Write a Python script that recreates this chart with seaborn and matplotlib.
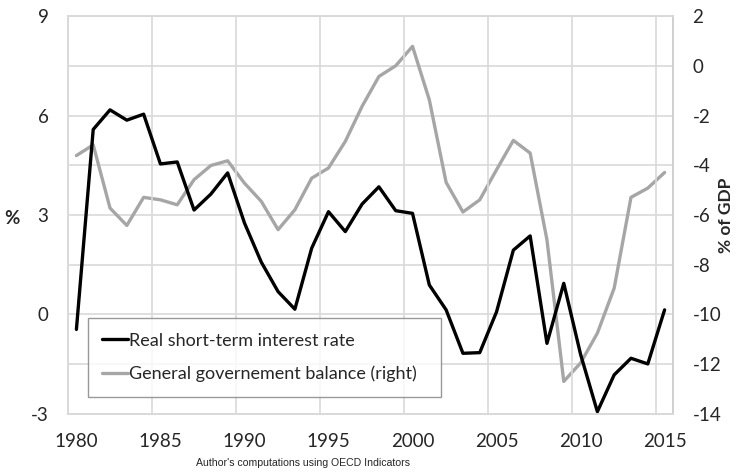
import matplotlib
matplotlib.use("Agg")
import matplotlib.pyplot as plt
import pandas as pd
import numpy as np
import seaborn as sns

# Data
years = list(range(1980, 2016))
interest_rate = [-0.45, 5.58, 6.17, 5.86, 6.04, 4.54, 4.60, 3.15, 3.63, 4.27,
                 2.76, 1.58, 0.69, 0.16, 2.00, 3.10, 2.50, 3.33, 3.85, 3.13,
                 3.05, 0.89, 0.14, -1.17, -1.15, 0.08, 1.94, 2.37, -0.87, 0.94,
                 -1.20, -2.93, -1.82, -1.32, -1.49, 0.14]
gov_balance = [-3.61, -3.18, -5.72, -6.42, -5.29, -5.39, -5.59, -4.58, -4.01, -3.82,
               -4.72, -5.45, -6.59, -5.79, -4.52, -4.11, -3.04, -1.63, -0.43, 0.0,
               0.78, -1.37, -4.69, -5.88, -5.39, -4.18, -3.00, -3.51, -7.00, -12.69,
               -11.95, -10.75, -8.94, -5.29, -4.92, -4.29]
left_ticks = [-3, 0, 3, 6, 9]
right_ticks = [-14, -12, -10, -8, -6, -4, -2, 0, 2]
x_ticks = [1980, 1985, 1990, 1995, 2000, 2005, 2010, 2015]

df = pd.DataFrame({"year": years, "rate": interest_rate, "balance": gov_balance})

sns.set_style("white")
plt.rcParams['font.family'] = ['Lato', 'DejaVu Sans']
plt.rcParams['axes.unicode_minus'] = False

fig = plt.figure(figsize=(7.36, 4.74), dpi=100)
ax = fig.add_axes([0.0924, 0.1266, 0.822, 0.8396])
ax2 = ax.twinx()

grid_col = "#d9d9d9"
black = "#000000"
grey = "#a6a6a6"

# grid lines follow the right axis (every 2) and category boundaries
ax2.set_ylim(-14, 2)
ax2.set_yticks(right_ticks)
ax2.grid(axis="y", color=grid_col, linewidth=1.2)
ax.set_xlim(1979.5, 2015.5)
ax.set_xticks(x_ticks)
ax.set_xticks([x - 0.5 for x in x_ticks], minor=True)
ax.grid(axis="x", which="minor", color=grid_col, linewidth=1.2)
ax.set_ylim(-3, 9)
ax.set_yticks(left_ticks)

sns.lineplot(data=df, x="year", y="balance", ax=ax2, color=grey, linewidth=2.4,
             label="General governement balance (right)", legend=False)
sns.lineplot(data=df, x="year", y="rate", ax=ax, color=black, linewidth=2.4,
             label="Real short-term interest rate", legend=False)

# draw the black line above the grey one
ax.set_zorder(ax2.get_zorder() + 1)
ax.patch.set_visible(False)

for a in (ax, ax2):
    a.tick_params(length=0, labelsize=13.5, pad=14)
    for s in a.spines.values():
        s.set_color(grid_col)
        s.set_linewidth(1.2)
ax.tick_params(axis="x", pad=14)
ax2.spines["right"].set_color("#a0a0a0")
ax.set_xlabel("")
ax.set_ylabel("%", fontsize=13.5, fontweight="bold", rotation=0, va="center", ha="center")
ax.yaxis.set_label_coords(-0.093, 0.49)
ax2.set_ylabel("% of GDP", fontsize=12.5, fontweight="bold", va="center", ha="center")
ax2.yaxis.set_label_coords(1.087, 0.5)

h1, l1 = ax.get_legend_handles_labels()
h2, l2 = ax2.get_legend_handles_labels()
leg = ax.legend(h1 + h2, l1 + l2, loc="lower left", bbox_to_anchor=(0.033, 0.043, 0.584, 0.198),
                mode="expand", fontsize=13, frameon=True, fancybox=False, borderaxespad=0,
                handlelength=1.4, handletextpad=0.1, borderpad=0.8, labelspacing=0.95)
leg.get_frame().set_edgecolor("#808080")
leg.get_frame().set_linewidth(1.0)

fig.text(0.412, 0.012, "Author's computations using OECD Indicators", fontsize=7.6,
         family="Liberation Sans", ha="center", va="bottom")

fig.savefig("out.png", dpi=100)
